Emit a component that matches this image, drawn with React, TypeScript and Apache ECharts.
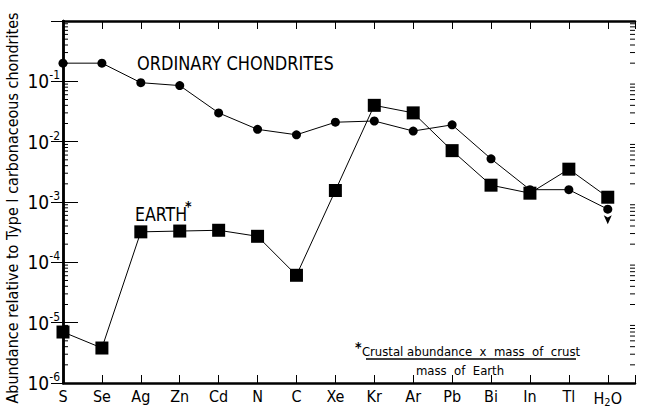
import React, { useEffect, useRef } from "react";
import * as echarts from "echarts";

const CATEGORIES = ["S", "Se", "Ag", "Zn", "Cd", "N", "C", "Xe", "Kr", "Ar", "Pb", "Bi", "In", "Tl", "H2O"];
const ORDINARY_CHONDRITES = [0.2, 0.2, 0.095, 0.085, 0.03, 0.016, 0.013, 0.021, 0.022, 0.015, 0.019, 0.0052, 0.0016, 0.0016, 0.00076];
const EARTH = [7e-6, 3.8e-6, 3.2e-4, 3.3e-4, 3.4e-4, 2.7e-4, 6.1e-5, 1.55e-3, 0.04, 0.03, 0.0071, 0.0019, 0.0014, 0.0035, 0.0012];
const DECADES = [-6, -5, -4, -3, -2, -1];
const MINOR_MULTIPLIERS = [2, 3, 4, 5, 6, 7, 8, 9];

const NARROW = "'Liberation Sans Narrow', 'DejaVu Sans Condensed', 'Arial Narrow', sans-serif";

export default function App() {
  const ref = useRef<HTMLDivElement>(null);
  useEffect(() => {
    document.body.style.margin = "0";
    if (!ref.current) return;
    const chart = echarts.init(ref.current, null, { renderer: "svg" });

    const minorData: number[][] = [];
    DECADES.forEach((d) => MINOR_MULTIPLIERS.forEach((m) => minorData.push([0, m * Math.pow(10, d)])));

    const xAxisBase = {
      type: "value",
      min: 0,
      max: 14.7,
      interval: 1,
      splitLine: { show: false },
      axisLine: { show: true, lineStyle: { color: "#000", width: 2.5 } },
      axisTick: { show: true, inside: true, length: 8, lineStyle: { color: "#000", width: 1 } },
    };

    const yAxisBase = {
      type: "log",
      logBase: 10,
      min: 1e-6,
      max: 1,
      splitLine: { show: false },
      axisLine: { show: true, lineStyle: { color: "#000", width: 2.5 } },
    };

    chart.setOption({
      animation: false,
      backgroundColor: "#fff",
      grid: { left: 63, right: 11, top: 21, bottom: 33 },
      xAxis: [
        {
          ...xAxisBase,
          position: "bottom",
          axisLabel: {
            show: true,
            color: "#000",
            fontFamily: NARROW,
            fontSize: 16,
            margin: 5,
            formatter: (v: number) => {
              if (Math.abs(v - Math.round(v)) > 1e-6) return "";
              const c = CATEGORIES[Math.round(v)];
              if (!c) return "";
              if (c === "H2O") return "{n|H}{sub|2}{n|O}";
              return "{n|" + c + "}";
            },
            rich: {
              n: { fontFamily: NARROW, fontSize: 16, color: "#000" },
              sub: { fontFamily: NARROW, fontSize: 11, color: "#000", padding: [9, 0, 0, 0] },
            },
          },
        },
        {
          ...xAxisBase,
          position: "top",
          axisLabel: { show: false },
        },
      ],
      yAxis: [
        {
          ...yAxisBase,
          position: "left",
          axisTick: { show: true, inside: true, length: 15, lineStyle: { color: "#000", width: 1 } },
          axisLabel: {
            show: true,
            margin: 3,
            color: "#000",
            formatter: (v: number) => {
              const e = Math.round(Math.log10(v));
              if (e === 0) return "";
              return "{b|10}{s|" + e + "}";
            },
            rich: {
              b: { fontFamily: NARROW, fontSize: 19, color: "#000" },
              s: { fontFamily: NARROW, fontSize: 12, color: "#000", padding: [0, 0, 12, 0] },
            },
          },
        },
        {
          ...yAxisBase,
          position: "right",
          axisTick: { show: true, inside: true, length: 12, lineStyle: { color: "#000", width: 1 } },
          axisLabel: { show: false },
        },
      ],
      graphic: [
        {
          type: "text",
          x: 12,
          y: 208,
          rotation: Math.PI / 2,
          style: {
            text: "Abundance relative to Type I carbonaceous chondrites",
            fontFamily: NARROW,
            fontSize: 16,
            fill: "#000",
            align: "center",
            verticalAlign: "middle",
          },
        },
        {
          type: "text",
          x: 137,
          y: 63,
          scaleX: 0.9,
          style: {
            text: "ORDINARY CHONDRITES",
            fontFamily: NARROW,
            fontSize: 20,
            fill: "#000",
            align: "left",
            verticalAlign: "middle",
          },
        },
        {
          type: "text",
          x: 135,
          y: 214,
          scaleX: 0.88,
          style: {
            text: "EARTH",
            fontFamily: NARROW,
            fontSize: 20,
            fill: "#000",
            align: "left",
            verticalAlign: "middle",
          },
        },
        {
          type: "text",
          x: 185,
          y: 206,
          style: { text: "*", fontFamily: NARROW, fontSize: 14, fontWeight: "bold", fill: "#000", align: "left", verticalAlign: "middle" },
        },
        {
          type: "text",
          x: 355,
          y: 347,
          style: { text: "*", fontFamily: NARROW, fontSize: 14, fontWeight: "bold", fill: "#000", align: "left", verticalAlign: "middle" },
        },
        {
          type: "text",
          x: 471,
          y: 351,
          style: {
            text: "Crustal abundance  x  mass  of  crust",
            fontFamily: NARROW,
            fontSize: 13,
            fill: "#000",
            align: "center",
            verticalAlign: "middle",
          },
        },
        {
          type: "line",
          shape: { x1: 366, y1: 359, x2: 576, y2: 359 },
          style: { stroke: "#000", lineWidth: 1.5 },
        },
        {
          type: "text",
          x: 460,
          y: 370,
          style: {
            text: "mass  of  Earth",
            fontFamily: NARROW,
            fontSize: 13,
            fill: "#000",
            align: "center",
            verticalAlign: "middle",
          },
        },
      ],
      series: [
        {
          name: "Ordinary chondrites",
          type: "line",
          xAxisIndex: 0,
          yAxisIndex: 0,
          data: ORDINARY_CHONDRITES.map((v, i) => [i, v]),
          symbol: "circle",
          symbolSize: 9,
          itemStyle: { color: "#000" },
          lineStyle: { color: "#000", width: 1 },
          z: 3,
          markPoint: {
            silent: true,
            label: { show: false },
            data: [
              {
                coord: [CATEGORIES.length - 1, ORDINARY_CHONDRITES[ORDINARY_CHONDRITES.length - 1]],
                symbol: "arrow",
                symbolSize: [6, 9],
                symbolRotate: 180,
                symbolOffset: [0, 15],
                itemStyle: { color: "#000" },
              },
            ],
          },
        },
        {
          name: "Earth",
          type: "line",
          xAxisIndex: 0,
          yAxisIndex: 0,
          data: EARTH.map((v, i) => [i, v]),
          symbol: "rect",
          symbolSize: 13,
          itemStyle: { color: "#000" },
          lineStyle: { color: "#000", width: 1 },
          z: 4,
        },
        {
          name: "minor ticks",
          type: "custom",
          xAxisIndex: 0,
          yAxisIndex: 0,
          silent: true,
          data: minorData,
          encode: { x: 0, y: 1 },
          renderItem: (params: any, api: any) => {
            const y = api.coord([0, api.value(1)])[1];
            const cs = params.coordSys;
            return {
              type: "group",
              children: [
                { type: "line", shape: { x1: cs.x, y1: y, x2: cs.x + 5, y2: y }, style: { stroke: "#000", lineWidth: 1 } },
                {
                  type: "line",
                  shape: { x1: cs.x + cs.width - 5, y1: y, x2: cs.x + cs.width, y2: y },
                  style: { stroke: "#000", lineWidth: 1 },
                },
              ],
            };
          },
        },
      ],
    });
    return () => chart.dispose();
  }, []);
  return <div ref={ref} style={{ width: 646, height: 416 }} />;
}
